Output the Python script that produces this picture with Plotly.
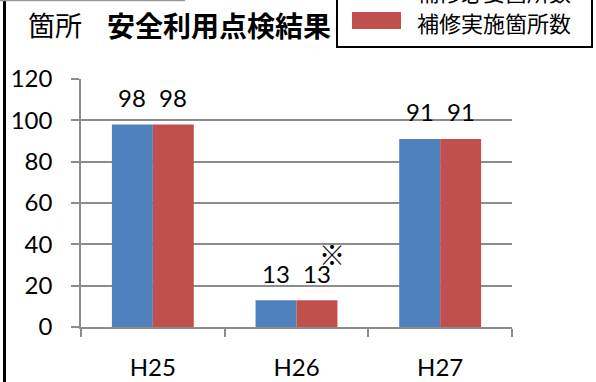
import plotly.graph_objects as go

# 年度別の点検結果
categories = ["H25", "H26", "H27"]
needed = [98, 13, 91]      # 補修必要箇所数
repaired = [98, 13, 91]    # 補修実施箇所数
series_names = ["補修必要箇所数", "補修実施箇所数"]
y_ticks = [0, 20, 40, 60, 80, 100, 120]

BLUE = "#4F81BD"
RED = "#C0504D"
GRID = "#8C8C8C"
NUM_FONT = "Lato, 'Noto Sans CJK JP', sans-serif"
JP_FONT = "'Noto Sans CJK JP', sans-serif"

W, H = 596, 382
ML, MR, MT, MB = 81, 84, 79, 55
PW, PH = W - ML - MR, H - MT - MB


def px(x):
    return (x - ML) / PW


def py(y):
    return (H - MB - y) / PH


fig = go.Figure()
fig.add_trace(go.Bar(x=categories, y=needed, name=series_names[0],
                     marker=dict(color=BLUE, line=dict(width=0))))
fig.add_trace(go.Bar(x=categories, y=repaired, name=series_names[1],
                     marker=dict(color=RED, line=dict(width=0))))

annotations = []
# value labels above each bar
for vals, shift in ((needed, -20.5), (repaired, 20.5)):
    for c, v in zip(categories, vals):
        annotations.append(dict(x=c, y=v, xref="x", yref="y", text=str(v),
                                showarrow=False, xshift=shift, yshift=27,
                                yanchor="middle",
                                font=dict(family=NUM_FONT, size=24, color="#000")))
# note mark next to H26
annotations.append(dict(x="H26", y=repaired[1], xref="x", yref="y", text="※",
                        showarrow=False, xshift=35, yshift=47, yanchor="middle",
                        font=dict(family=JP_FONT, size=26, color="#000")))
# title
annotations.append(dict(x=px(26), y=py(25), xref="paper", yref="paper",
                        text="箇所", showarrow=False, xanchor="left", yanchor="middle",
                        font=dict(family=JP_FONT, size=27, color="#000")))
annotations.append(dict(x=px(105), y=py(25), xref="paper", yref="paper",
                        text="<b>安全利用点検結果</b>", showarrow=False,
                        xanchor="left", yanchor="middle",
                        font=dict(family=JP_FONT, size=28, color="#000")))
# legend text
for name, cy in zip(series_names, (-9, 22)):
    annotations.append(dict(x=px(415), y=py(cy), xref="paper", yref="paper",
                            text=name, showarrow=False, xanchor="left",
                            yanchor="middle",
                            font=dict(family=JP_FONT, size=22, color="#000")))

shapes = [
    # legend frame
    dict(type="rect", xref="paper", yref="paper", x0=px(337), x1=px(592),
         y0=py(47), y1=py(-40), line=dict(color="#000", width=2),
         fillcolor="rgba(0,0,0,0)"),
    # legend swatches
    dict(type="rect", xref="paper", yref="paper", x0=px(352), x1=px(401),
         y0=py(-19), y1=py(-2), line=dict(width=0), fillcolor=BLUE),
    dict(type="rect", xref="paper", yref="paper", x0=px(352), x1=px(401),
         y0=py(12), y1=py(29), line=dict(width=0), fillcolor=RED),
    # outer frame pieces
    dict(type="line", xref="paper", yref="paper", x0=px(4.5), x1=px(4.5),
         y0=py(0), y1=py(H), line=dict(color="#000", width=3)),
    dict(type="line", xref="paper", yref="paper", x0=px(0), x1=px(185),
         y0=py(0.5), y1=py(0.5), line=dict(color="#999", width=1.5)),
]

fig.update_layout(
    width=W, height=H,
    margin=dict(l=ML, r=MR, t=MT, b=MB),
    paper_bgcolor="white", plot_bgcolor="white",
    barmode="group", bargap=0.43, bargroupgap=0,
    showlegend=False,
    annotations=annotations,
    shapes=shapes,
)
fig.update_xaxes(
    type="category", tickson="boundaries", ticks="outside", ticklen=8,
    tickcolor=GRID, tickwidth=1.5, showline=True, linecolor=GRID, linewidth=1.5,
    showgrid=False, ticklabelstandoff=18, automargin=False,
    tickfont=dict(family=NUM_FONT, size=24, color="#000"),
)
fig.update_yaxes(
    range=[0, 120], tickvals=y_ticks, ticks="outside", ticklen=8,
    tickcolor=GRID, tickwidth=1.5, showline=True, linecolor=GRID, linewidth=1.5,
    showgrid=True, gridcolor=GRID, gridwidth=1.5, zeroline=False,
    ticklabelstandoff=14, automargin=False,
    tickfont=dict(family=NUM_FONT, size=24, color="#000"),
)

fig.write_html("out.html")
